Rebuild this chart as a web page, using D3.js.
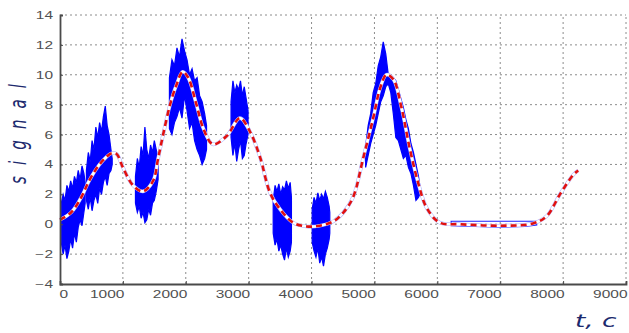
<!DOCTYPE html>
<html>
<head>
<meta charset="utf-8">
<script src="https://cdn.jsdelivr.net/npm/d3@7"></script>
<style>
  body { margin: 0; background: #fff; }
  svg { display: block; }
</style>
</head>
<body>
<div id="chart"></div>
<script>
// tick labels
const xTicks = [0, 1000, 2000, 3000, 4000, 5000, 6000, 7000, 8000, 9000];
const yTicks = [-4, -2, 0, 2, 4, 6, 8, 10, 12, 14];

// smooth (filtered) signal
const smoothT = [0, 180, 350, 450, 560, 690, 820, 900, 1000, 1160, 1320, 1480, 1560, 1640, 1750, 1850, 1950, 2040, 2170, 2280, 2430, 2650, 2860, 3020, 3180, 3340, 3500, 3710, 3920, 4130, 4350, 4500, 4660, 4820, 4980, 5090, 5190, 5300, 5430, 5560, 5700, 5830, 6040, 6360, 7000, 7520, 7740, 7950, 8160, 8240];
const smoothV = [0.3, 0.8, 1.9, 2.8, 3.6, 4.3, 4.75, 4.7, 3.8, 2.6, 2.2, 2.9, 4.4, 6.0, 8.0, 9.3, 10.2, 9.8, 8.0, 6.4, 5.35, 5.9, 7.1, 6.2, 4.5, 2.1, 1.0, 0.1, -0.15, -0.1, 0.2, 0.75, 1.8, 4.4, 7.1, 9.1, 10.0, 9.7, 7.8, 5.1, 2.7, 1.1, 0.1, 0.0, -0.1, 0.05, 0.55, 2.0, 3.3, 3.6];

// noisy bursts: [t, low, high]
const burst1 = [[20,-1.2,1.4],[50,-2.0,2.0],[80,-1.4,1.6],[110,-2.3,2.6],[140,-1.8,2.2],[170,-1.0,2.9],[200,-1.6,2.4],[230,-0.6,3.2],[260,-1.2,2.8],[290,-0.2,3.6],[320,0.3,3.0],[350,-0.1,3.9],[380,0.8,3.4],[400,1.4,2.8]];
const burst2 = [[420,1.6,3.6],[450,1.0,4.8],[480,1.8,4.2],[510,0.9,5.6],[540,1.6,5.0],[570,2.0,6.5],[600,1.4,5.8],[630,2.4,6.8],[660,2.0,6.2],[690,2.8,7.2],[720,3.2,7.9],[750,2.6,6.6],[780,3.4,6.0],[810,3.6,5.0],[830,4.0,4.4]];
const burst3 = [[1200,1.4,3.2],[1230,0.8,4.4],[1260,1.2,3.8],[1290,0.4,5.2],[1320,0.8,4.6],[1350,0.1,6.5],[1380,0.3,5.0],[1410,1.0,4.4],[1440,0.6,5.3],[1470,1.4,4.8],[1500,1.6,5.6],[1530,2.2,5.0],[1560,3.0,4.4]];
const burst4 = [[1740,6.4,9.8],[1780,6.0,11.0],[1820,6.8,10.6],[1860,7.2,11.8],[1900,7.8,11.2],[1940,7.1,12.4],[1980,8.6,11.6],[2020,7.6,11.0],[2060,6.4,10.0],[2100,6.8,10.4],[2140,5.6,9.6],[2180,5.0,9.8],[2220,4.6,8.6],[2260,4.0,8.2],[2300,4.4,7.4],[2330,5.0,6.6]];
const burst5 = [[2720,5.8,8.2],[2750,4.6,9.6],[2780,5.4,8.8],[2810,4.2,9.3],[2840,5.0,9.0],[2870,5.6,9.6],[2900,4.4,8.6],[2930,4.6,9.2],[2960,5.4,8.4],[2990,6.0,7.6]];
const burst6 = [[3390,-0.6,1.6],[3420,-1.4,2.6],[3450,-1.0,2.2],[3480,-1.8,2.7],[3510,-1.4,2.0],[3540,-2.0,2.5],[3570,-2.4,2.3],[3600,-1.6,2.9],[3630,-2.2,2.4],[3660,-1.8,2.8],[3680,-1.2,1.8]];
const burst7 = [[4010,-1.2,1.0],[4040,-1.8,1.8],[4070,-2.2,1.4],[4100,-1.6,2.1],[4130,-2.6,1.6],[4160,-2.2,2.0],[4190,-2.8,1.7],[4220,-2.0,2.2],[4250,-1.6,1.8],[4280,-1.0,1.2],[4290,-0.6,0.8]];
const burst8 = [[4860,3.8,5.2],[4900,4.6,6.6],[4940,5.4,7.4],[4980,6.0,8.8],[5020,6.6,9.4],[5060,7.4,10.6],[5100,8.2,11.2],[5140,8.6,12.2],[5180,9.2,11.4],[5220,9.4,10.0],[5260,8.8,9.6],[5300,7.4,9.8],[5340,5.8,9.6],[5380,5.6,9.0],[5420,5.0,8.4],[5460,4.4,7.8],[5500,4.6,7.0],[5540,3.8,6.4],[5580,3.4,5.4],[5620,2.6,4.8],[5660,1.6,4.0],[5700,1.8,3.2],[5720,2.0,2.6]];
const burst9 = [[6220,-0.1,0.2],[6600,-0.15,0.2],[7000,-0.2,0.2],[7400,-0.15,0.2],[7580,-0.05,0.2]];

const bursts = [burst1, burst2, burst3, burst4, burst5, burst6, burst7, burst8];

const width = 629;
const height = 333;
const stretch = 1.55; // the picture's text is wide, as if squashed vertically

const svg = d3.select('#chart')
  .append('svg')
  .attr('width', width)
  .attr('height', height);

const x = d3.scaleLinear().domain([0, 9000]).range([60, 626]);
const y = d3.scaleLinear().domain([-4, 14]).range([284, 15]);

// dotted grid
svg.append('g')
  .selectAll('line')
  .data(xTicks.slice(1))
  .join('line')
  .attr('x1', d => x(d)).attr('x2', d => x(d))
  .attr('y1', y(-4)).attr('y2', y(14))
  .attr('stroke', '#8c8c8c')
  .attr('stroke-width', 1)
  .attr('stroke-dasharray', '2,3');

svg.append('g')
  .selectAll('line')
  .data(yTicks.slice(1))
  .join('line')
  .attr('x1', x(0)).attr('x2', x(9000))
  .attr('y1', d => y(d)).attr('y2', d => y(d))
  .attr('stroke', '#8c8c8c')
  .attr('stroke-width', 1)
  .attr('stroke-dasharray', '2,3');

// noisy bursts
const area = d3.area()
  .x(d => x(d[0]))
  .y0(d => y(d[1]))
  .y1(d => y(d[2]));

svg.append('g')
  .selectAll('path')
  .data(bursts)
  .join('path')
  .attr('d', area)
  .attr('fill', '#0000ff')
  .attr('stroke', '#0000ff')
  .attr('stroke-width', 1.2)
  .attr('stroke-linejoin', 'miter');

svg.append('path')
  .attr('d', area(burst9))
  .attr('fill', 'none')
  .attr('stroke', '#2020ff')
  .attr('stroke-width', 1.2);

// smooth curve
const smooth = smoothT.map((t, i) => [t, smoothV[i]]);
const line = d3.line()
  .x(d => x(d[0]))
  .y(d => y(d[1]))
  .curve(d3.curveCatmullRom);

svg.append('path')
  .attr('d', line(smooth))
  .attr('fill', 'none')
  .attr('stroke', '#a8adff')
  .attr('stroke-width', 3.6);

svg.append('path')
  .attr('d', line(smooth))
  .attr('fill', 'none')
  .attr('stroke', '#ffffff')
  .attr('stroke-width', 2.6);

svg.append('path')
  .attr('d', line(smooth))
  .attr('fill', 'none')
  .attr('stroke', '#e01010')
  .attr('stroke-width', 2.6)
  .attr('stroke-dasharray', '6,4');

// axes
const xAxis = d3.axisBottom(x).tickValues(xTicks).tickSize(-3).tickPadding(0).tickFormat(d3.format('d'));
const yAxis = d3.axisLeft(y).tickValues(yTicks).tickSize(-3).tickPadding(0);

const gx = svg.append('g')
  .attr('transform', `translate(0,${y(-4)})`)
  .call(xAxis);
const gy = svg.append('g')
  .attr('transform', `translate(${x(0)},0)`)
  .call(yAxis);

[gx, gy].forEach(g => {
  g.select('.domain').attr('stroke', '#4a4a4a').attr('stroke-width', 1.8);
  g.selectAll('.tick line').attr('stroke', '#4a4a4a');
  g.selectAll('text')
    .attr('fill', '#505050')
    .style('font-family', 'Liberation Sans, Arial, sans-serif')
    .style('font-size', '10px');
});

// x labels sit left of their tick, stretched wide
gx.selectAll('.tick text')
  .attr('dy', null)
  .attr('y', 14)
  .attr('text-anchor', d => d === 0 ? 'start' : 'end')
  .attr('x', d => d === 0 ? -1 / stretch : 1 / stretch)
  .attr('transform', `scale(${stretch},1)`);

gy.selectAll('.tick text')
  .attr('x', -7 / stretch)
  .attr('dy', '0.35em')
  .attr('text-anchor', 'end')
  .attr('transform', `scale(${stretch},1)`);

// axis titles
svg.append('text')
  .attr('transform', `translate(26,134) scale(${stretch},1) rotate(-90)`)
  .attr('text-anchor', 'middle')
  .attr('fill', '#1c2a6e')
  .attr('textLength', 100)
  .attr('lengthAdjust', 'spacing')
  .style('font-family', 'DejaVu Sans, sans-serif')
  .style('font-style', 'italic')
  .style('font-size', '15px')
  .text('signal');

svg.append('text')
  .attr('transform', `translate(575,327) scale(${stretch},1)`)
  .attr('text-anchor', 'start')
  .attr('fill', '#1c2a6e')
  .style('font-family', 'DejaVu Sans, sans-serif')
  .style('font-style', 'italic')
  .style('font-size', '17px')
  .text('t, c');
</script>
</body>
</html>
